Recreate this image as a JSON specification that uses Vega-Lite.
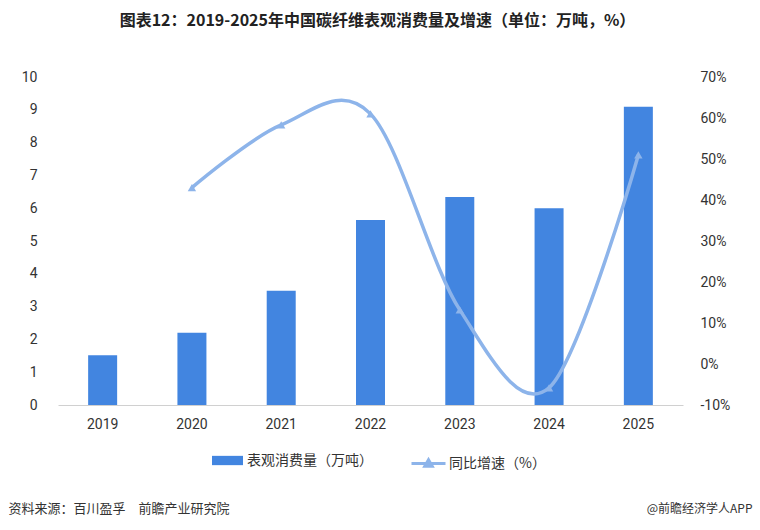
{
  "$schema": "https://vega.github.io/schema/vega-lite/v6.json",
  "autosize": {"type": "none"},
  "width": 625,
  "height": 328,
  "padding": {"left": 58, "top": 77, "right": 77, "bottom": 125},
  "background": "white",
  "config": {
    "view": {"stroke": null},
    "font": "Noto Sans CJK SC"
  },
  "title": {
    "text": "图表12：2019-2025年中国碳纤维表观消费量及增速（单位：万吨，%）",
    "anchor": "middle",
    "frame": "group",
    "dx": 7,
    "offset": 33,
    "baseline": "middle",
    "fontSize": 16,
    "fontWeight": "bold",
    "color": "#222222",
    "font": "Noto Sans CJK SC"
  },
  "data": {
    "values": [
      {"year": "2019", "consumption": 1.52, "growth": null, "s1": "表观消费量（万吨）", "s2": "同比增速（%）"},
      {"year": "2020", "consumption": 2.2, "growth": 43, "s1": "表观消费量（万吨）", "s2": "同比增速（%）"},
      {"year": "2021", "consumption": 3.48, "growth": 58.3, "s1": "表观消费量（万吨）", "s2": "同比增速（%）"},
      {"year": "2022", "consumption": 5.64, "growth": 61, "s1": "表观消费量（万吨）", "s2": "同比增速（%）"},
      {"year": "2023", "consumption": 6.34, "growth": 13.2, "s1": "表观消费量（万吨）", "s2": "同比增速（%）"},
      {"year": "2024", "consumption": 6.0, "growth": -5.8, "s1": "表观消费量（万吨）", "s2": "同比增速（%）"},
      {"year": "2025", "consumption": 9.09, "growth": 51, "s1": "表观消费量（万吨）", "s2": "同比增速（%）"}
    ]
  },
  "encoding": {
    "x": {
      "field": "year",
      "type": "ordinal",
      "scale": {"paddingInner": 0.67, "paddingOuter": 0.335},
      "axis": {
        "title": "资料来源：百川盈孚　前瞻产业研究院",
        "titleX": -50,
        "titleY": 103,
        "titleAlign": "left",
        "titleAnchor": null,
        "titleBaseline": "middle",
        "titleFontSize": 13,
        "titleFontWeight": "normal",
        "titleColor": "#333333",
        "labelAngle": 0,
        "labelFontSize": 14,
        "labelColor": "#333333",
        "labelFont": "Roboto",
        "labelPadding": 12,
        "ticks": false,
        "domainColor": "#d0d0d0",
        "domainWidth": 1,
        "grid": false
      }
    }
  },
  "layer": [
    {
      "mark": {"type": "bar", "width": 29},
      "encoding": {
        "y": {
          "field": "consumption",
          "type": "quantitative",
          "scale": {"domain": [0, 10], "nice": false},
          "axis": {
            "title": null,
            "values": [0, 1, 2, 3, 4, 5, 6, 7, 8, 9, 10],
            "grid": false,
            "domain": false,
            "ticks": false,
            "labelPadding": 21,
            "labelFontSize": 14,
            "labelColor": "#333333",
            "labelFont": "Roboto"
          }
        },
        "fill": {
          "field": "s1",
          "type": "nominal",
          "scale": {"range": ["#4285e0"]},
          "legend": {
            "title": null,
            "orient": "none",
            "legendX": 154,
            "legendY": 368,
            "padding": 0,
            "symbolType": "M-1,-0.3H1V0.3H-1Z",
            "symbolSize": 961,
            "symbolStrokeWidth": 0,
            "labelFontSize": 14,
            "labelColor": "#333333",
            "labelOffset": 4
          }
        }
      }
    },
    {
      "transform": [{"filter": "datum.growth != null"}],
      "mark": {"type": "line", "interpolate": "cardinal", "tension": 0, "strokeWidth": 3.5},
      "encoding": {
        "y": {
          "field": "growth",
          "type": "quantitative",
          "scale": {"domain": [-10, 70], "nice": false},
          "axis": {
            "orient": "right",
            "title": "@前瞻经济学人APP",
            "titleAngle": 0,
            "titleX": 69,
            "titleY": 431,
            "titleAlign": "right",
            "titleAnchor": null,
            "titleBaseline": "middle",
            "titleFontSize": 12,
            "titleFontWeight": "normal",
            "titleColor": "#333333",
            "values": [-10, 0, 10, 20, 30, 40, 50, 60, 70],
            "labelExpr": "datum.value + '%'",
            "grid": false,
            "domain": false,
            "ticks": false,
            "labelPadding": 17,
            "labelFontSize": 14,
            "labelColor": "#333333",
            "labelFont": "Roboto"
          }
        },
        "stroke": {
          "field": "s2",
          "type": "nominal",
          "scale": {"range": ["#8db4ea"]},
          "legend": {
            "title": null,
            "orient": "none",
            "legendX": 352,
            "legendY": 368,
            "padding": 0,
            "symbolType": "M-1,0H1M-0.22,0.16L0,-0.22L0.22,0.16Z",
            "symbolSize": 1156,
            "symbolStrokeWidth": 3,
            "symbolFillColor": "#8db4ea",
            "labelFontSize": 14,
            "labelColor": "#333333",
            "labelOffset": 2
          }
        }
      }
    },
    {
      "transform": [{"filter": "datum.growth != null"}],
      "mark": {"type": "point", "shape": "triangle-up", "filled": true, "size": 70, "color": "#8db4ea", "opacity": 1},
      "encoding": {
        "y": {"field": "growth", "type": "quantitative", "scale": {"domain": [-10, 70], "nice": false}, "axis": null}
      }
    }
  ],
  "resolve": {"scale": {"y": "independent", "fill": "independent", "stroke": "independent"}}
}
